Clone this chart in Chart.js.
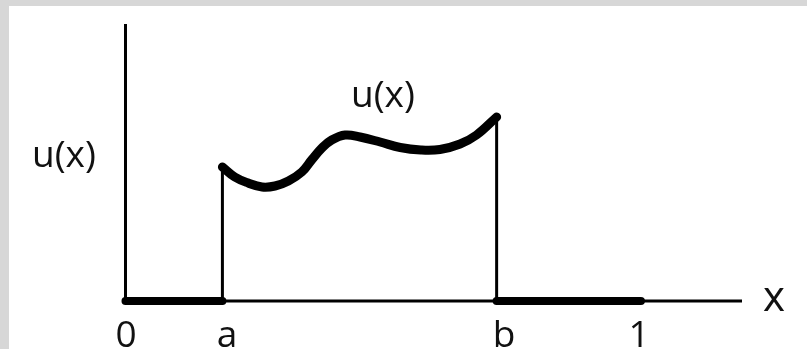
<!DOCTYPE html>
<html>
<head>
<meta charset="utf-8">
<style>
  html, body { margin: 0; padding: 0; background: #d7d7d7; }
  #wrap { position: relative; width: 807px; height: 349px; }
  canvas { display: block; }
</style>
<script src="https://cdn.jsdelivr.net/npm/chart.js@4/dist/chart.umd.min.js"></script>
</head>
<body>
<div id="wrap"><canvas id="c" width="807" height="349"></canvas></div>
<script>
// Support endpoints of u on [0, 1]
const A = 0.188;
const B = 0.72;
const X_END = 1.196;   // end of the x axis line
const U_TOP = 2.77;    // top of the u axis line

// Sampled profile of u(x) on [a, b]
const curveX = [0.188, 0.212, 0.238, 0.265, 0.290, 0.316, 0.342, 0.361, 0.381, 0.400, 0.426, 0.455, 0.494, 0.533, 0.573, 0.610, 0.649, 0.681, 0.720];
const curveU = [1.34, 1.24, 1.18, 1.14, 1.15, 1.20, 1.29, 1.41, 1.53, 1.61, 1.66, 1.64, 1.59, 1.535, 1.51, 1.515, 1.57, 1.66, 1.84];

// Tick positions along x and their labels
const tickValues = [0, A, B, 1];
const tickLabels = ['0', 'a', 'b', '1'];

const uAtA = curveU[0];
const uAtB = curveU[curveU.length - 1];

const curve = curveX.map((x, i) => ({ x: x, y: curveU[i] }));

const thin = { borderColor: '#000', borderWidth: 3, pointRadius: 0, tension: 0, clip: false, borderCapStyle: 'butt' };
const thick = { borderColor: '#000', borderWidth: 8, pointRadius: 0, tension: 0, clip: false, borderCapStyle: 'round' };

// Paper background with a grey frame on top and left
const paper = {
  id: 'paper',
  beforeDraw(chart) {
    const ctx = chart.ctx;
    ctx.save();
    ctx.fillStyle = '#d7d7d7';
    ctx.fillRect(0, 0, chart.width, chart.height);
    ctx.fillStyle = '#ffffff';
    ctx.fillRect(9, 6, chart.width - 9, chart.height - 6);
    ctx.restore();
  }
};

// Axis names, curve name and x tick labels
const labels = {
  id: 'labels',
  afterDatasetsDraw(chart) {
    const ctx = chart.ctx;
    const xs = chart.scales.x;
    ctx.save();
    ctx.fillStyle = '#111';
    ctx.textBaseline = 'alphabetic';
    ctx.font = '37px "Open Sans"';

    const nudge = [0.5, 4.5, 7.5, -2];
    ctx.textAlign = 'center';
    tickValues.forEach((v, i) => {
      ctx.fillText(tickLabels[i], xs.getPixelForValue(v) + nudge[i], 347);
    });

    ctx.textAlign = 'left';
    ctx.fillText('u(x)', 32, 167);
    ctx.fillText('u(x)', 351, 107);

    ctx.font = '42px "Open Sans"';
    ctx.fillText('x', 763, 311);
    ctx.restore();
  }
};

new Chart(document.getElementById('c'), {
  type: 'line',
  data: {
    datasets: [
      { ...thin, data: [{ x: 0, y: 0 }, { x: 0, y: U_TOP }] },
      { ...thin, data: [{ x: 0, y: 0 }, { x: X_END, y: 0 }] },
      { ...thin, data: [{ x: A, y: 0 }, { x: A, y: uAtA }] },
      { ...thin, data: [{ x: B, y: 0 }, { x: B, y: uAtB }] },
      { ...thick, data: [{ x: 0, y: 0 }, { x: A, y: 0 }] },
      { ...thick, data: [{ x: B, y: 0 }, { x: 1, y: 0 }] },
      { ...thick, data: curve, borderWidth: 9, tension: 0.4, borderJoinStyle: 'round' }
    ]
  },
  options: {
    responsive: false,
    animation: false,
    events: [],
    layout: { padding: { left: 125.5, top: 24, right: 65, bottom: 48 } },
    plugins: { legend: { display: false }, tooltip: { enabled: false } },
    scales: {
      x: { type: 'linear', min: 0, max: X_END, display: false },
      y: { type: 'linear', min: 0, max: U_TOP, display: false }
    }
  },
  plugins: [paper, labels]
});
</script>
</body>
</html>
